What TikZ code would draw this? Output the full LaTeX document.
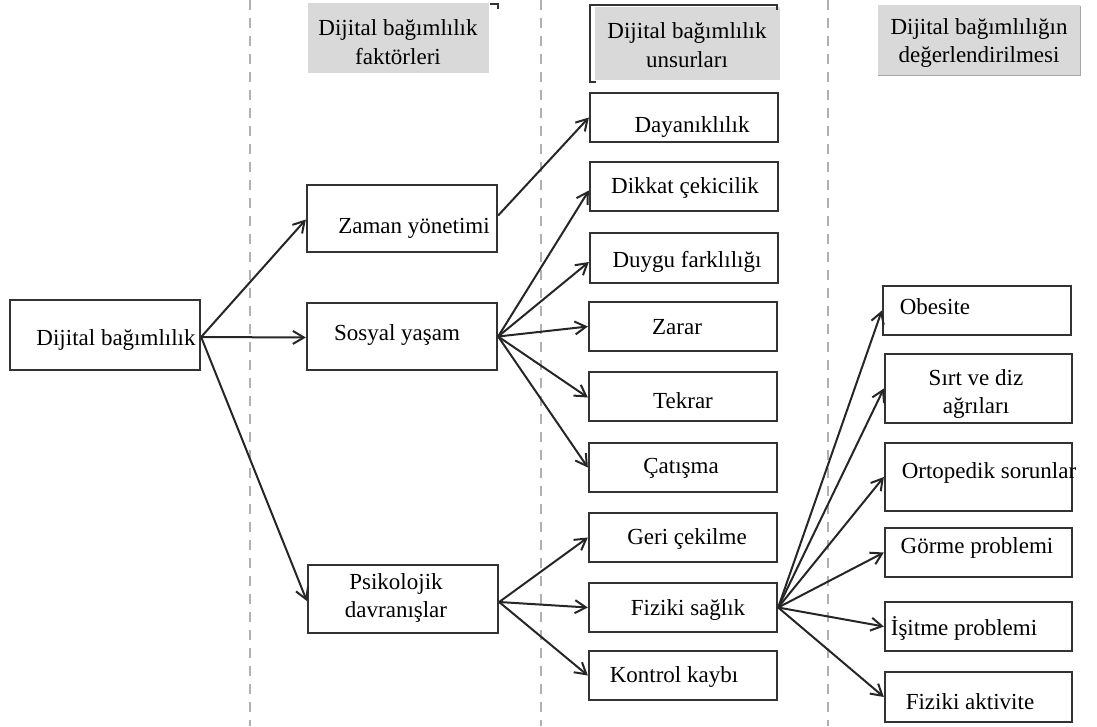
\documentclass[tikz,border=0pt]{standalone}
\usepackage{fontspec}
\setmainfont{Liberation Serif}
\usetikzlibrary{arrows.meta}
\definecolor{boxline}{HTML}{333333}
\definecolor{arrowline}{HTML}{262626}
\definecolor{headfill}{HTML}{D9D9D9}
\definecolor{dashcol}{HTML}{B0B0B0}
\tikzset{
  box/.style={draw=boxline, line width=2.3pt, fill=white, inner sep=0pt, rectangle},
  head/.style={fill=headfill, inner sep=0pt, rectangle},
  txt/.style={inner sep=0pt, align=center, font=\fontsize{23}{28.5}\selectfont, text=black},
  conn/.style={draw=arrowline, line width=2pt, -{Straight Barb[length=11pt,width=13pt,line width=2pt]}},
  sep/.style={draw=dashcol, line width=2pt, dash pattern=on 10pt off 8pt},
}
\begin{document}
\begin{tikzpicture}[x=1pt,y=-1pt]
\useasboundingbox (0,0) rectangle (1097,726);
% separators
\coordinate (s1a) at (250,0); \coordinate (s1b) at (250,726);
\coordinate (s2a) at (541,0); \coordinate (s2b) at (541,726);
\coordinate (s3a) at (828,0); \coordinate (s3b) at (828,726);
\draw[sep] (s1a) -- (s1b);
\draw[sep] (s2a) -- (s2b);
\draw[sep] (s3a) -- (s3b);
% headers
\node[head, minimum width=181pt, minimum height=70pt] (h1) at (398.5,38) {};
\draw[boxline, line width=1.5pt] (490,4) -- (498,4) -- (498,9);
\node[txt] (h1t) at (398,42) {Dijital bağımlılık\\faktörleri};
\node[head, minimum width=185pt, minimum height=73pt] (h2) at (687.5,43.5) {};
\draw[boxline, line width=2pt] (596,82) -- (590,82) -- (590,5) -- (777,5) -- (777,10);
\node[txt] (h2t) at (687,45) {Dijital bağımlılık\\unsurları};
\node[head, minimum width=202pt, minimum height=70pt] (h3) at (979,40) {};
\draw[gray!70, line width=1pt] (1080,6) -- (1080,75) -- (878,75);
\node[txt] (h3t) at (979,43) {Dijital bağımlılığın\\değerlendirilmesi};
% column 1
\node[box, minimum width=190pt, minimum height=70pt] (dig) at (105,335) {};
\node[txt] (digt) at (116,340) {Dijital bağımlılık};
% column 2
\node[box, minimum width=190pt, minimum height=67pt] (zam) at (402,218.5) {};
\node[txt] (zamt) at (414,228) {Zaman yönetimi};
\node[box, minimum width=190pt, minimum height=67pt] (sos) at (402,336.5) {};
\node[txt] (sost) at (397,335) {Sosyal yaşam};
\node[box, minimum width=190pt, minimum height=68pt] (psi) at (403,599) {};
\node[txt] (psit) at (396,598) {Psikolojik\\davranışlar};
% column 3
\node[box, minimum width=188pt, minimum height=49pt] (day) at (684,117.5) {};
\node[txt] (dayt) at (692,127) {Dayanıklılık};
\node[box, minimum width=188pt, minimum height=49pt] (dik) at (684,186.5) {};
\node[txt] (dikt) at (685,188) {Dikkat çekicilik};
\node[box, minimum width=188pt, minimum height=50pt] (duy) at (684,258) {};
\node[txt] (duyt) at (687,262) {Duygu farklılığı};
\node[box, minimum width=188pt, minimum height=49pt] (zar) at (683,326.5) {};
\node[txt] (zart) at (677,327) {Zarar};
\node[box, minimum width=188pt, minimum height=49pt] (tek) at (683,396.5) {};
\node[txt] (tekt) at (683,401) {Tekrar};
\node[box, minimum width=188pt, minimum height=49pt] (cat) at (683,467.5) {};
\node[txt] (catt) at (681,468) {Çatışma};
\node[box, minimum width=188pt, minimum height=49pt] (ger) at (683,537.5) {};
\node[txt] (gert) at (687,539) {Geri çekilme};
\node[box, minimum width=188pt, minimum height=49pt] (fiz) at (683,607.5) {};
\node[txt] (fizt) at (688,610) {Fiziki sağlık};
\node[box, minimum width=188pt, minimum height=49pt] (kon) at (683,675.5) {};
\node[txt] (kont) at (674,677) {Kontrol kaybı};
% column 4
\node[box, minimum width=188pt, minimum height=49pt] (obe) at (977,310.5) {};
\node[txt] (obet) at (935,307) {Obesite};
\node[box, minimum width=187pt, minimum height=69pt] (sir) at (978.5,388.5) {};
\node[txt] (sirt) at (976,394) {Sırt ve diz\\ağrıları};
\node[box, minimum width=187pt, minimum height=68pt] (ort) at (978.5,477) {};
\node[txt] (ortt) at (989,473) {Ortopedik sorunlar};
\node[box, minimum width=187pt, minimum height=49pt] (gor) at (978.5,552.5) {};
\node[txt] (gort) at (977,548) {Görme problemi};
\node[box, minimum width=187pt, minimum height=49pt] (isi) at (978.5,626.5) {};
\node[txt] (isit) at (964,628) {İşitme problemi};
\node[box, minimum width=187pt, minimum height=50pt] (akt) at (978.5,697) {};
\node[txt] (aktt) at (970,702) {Fiziki aktivite};
% connectors
\draw[conn] ([yshift=-2pt]dig.east) -- ([yshift=-1pt]zam.west);
\draw[conn] ([yshift=-2pt]dig.east) -- ([yshift=-1pt]sos.west);
\draw[conn] ([yshift=-2pt]dig.east) -- ([yshift=-2pt]psi.west);
\draw[conn] ([yshift=3pt]zam.east) -- (day.west);
\draw[conn] (sos.east) -- ([yshift=-4pt]dik.west);
\draw[conn] (sos.east) -- ([yshift=-4pt]duy.west);
\draw[conn] (sos.east) -- (zar.west);
\draw[conn] (sos.east) -- ([yshift=-1pt]tek.west);
\draw[conn] (sos.east) -- (cat.west);
\draw[conn] ([yshift=-3pt]psi.east) -- (ger.west);
\draw[conn] ([yshift=-3pt]psi.east) -- (fiz.west);
\draw[conn] ([yshift=-3pt]psi.east) -- (kon.west);
\draw[conn] (fiz.east) -- (obe.west);
\draw[conn] (fiz.east) -- (sir.west);
\draw[conn] (fiz.east) -- (ort.west);
\draw[conn] (fiz.east) -- (gor.west);
\draw[conn] (fiz.east) -- (isi.west);
\draw[conn] (fiz.east) -- (akt.west);
\end{tikzpicture}
\end{document}
